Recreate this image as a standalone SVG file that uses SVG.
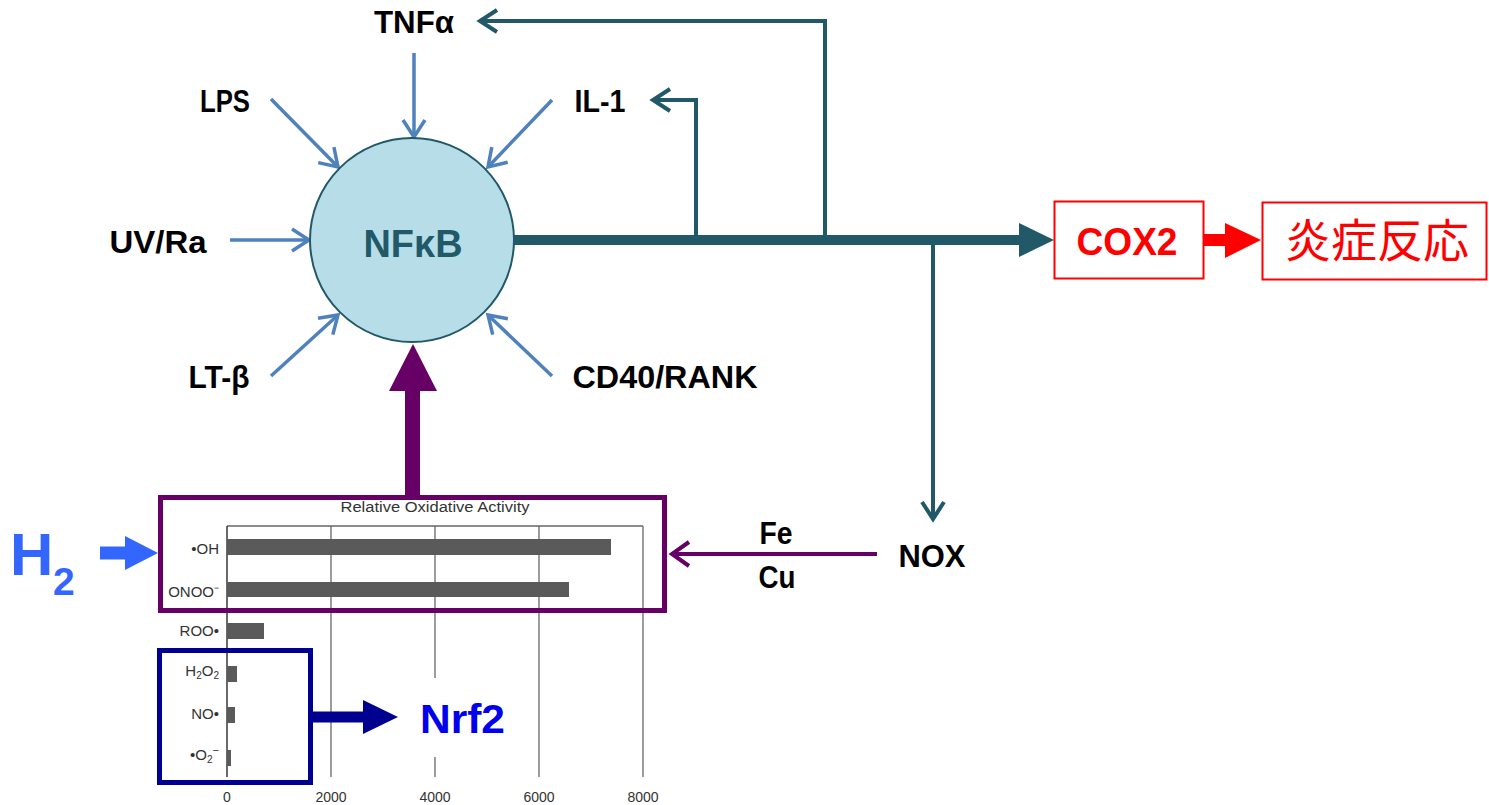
<svg xmlns="http://www.w3.org/2000/svg" width="1489" height="805" viewBox="0 0 1489 805">
<style>
.lbl{font-family:"Liberation Sans",Arial,sans-serif;font-weight:bold;font-size:31px;fill:#000;text-anchor:middle}
.blue{fill:none;stroke:#4F81BD;stroke-width:3.5}
.teal{fill:none;stroke:#215968;stroke-width:4}
.ch{font-family:"Liberation Sans",Arial,sans-serif;font-size:14px;fill:#333}
.yl{font-family:"Liberation Sans",Arial,sans-serif;font-size:15px;fill:#333;text-anchor:end}
.grid{stroke:#666;stroke-width:1.3}
.bar{fill:#5a5a5a}
</style>
<defs>
<marker id="mb" viewBox="-2 -14 24 28" refX="18" refY="0" markerWidth="24" markerHeight="28" markerUnits="userSpaceOnUse" orient="auto">
<path d="M1,-11 L18,0 L1,11" fill="none" stroke="#4F81BD" stroke-width="3.5"/>
</marker>
<marker id="mt" viewBox="-2 -14 24 28" refX="18" refY="0" markerWidth="24" markerHeight="28" markerUnits="userSpaceOnUse" orient="auto">
<path d="M1,-11 L18,0 L1,11" fill="none" stroke="#215968" stroke-width="4"/>
</marker>
<marker id="mp" viewBox="-2 -14 24 28" refX="18" refY="0" markerWidth="24" markerHeight="28" markerUnits="userSpaceOnUse" orient="auto">
<path d="M1,-12 L18,0 L1,12" fill="none" stroke="#660066" stroke-width="4"/>
</marker>
</defs>
<rect width="1489" height="805" fill="#fff"/>

<g id="chart">
<text class="ch" x="435" y="512" text-anchor="middle" font-size="17" textLength="189" lengthAdjust="spacingAndGlyphs">Relative Oxidative Activity</text>
<line class="grid" x1="227" y1="526" x2="643" y2="526"/>
<line class="grid" x1="331" y1="526" x2="331" y2="777"/>
<line class="grid" x1="435" y1="526" x2="435" y2="678"/>
<line class="grid" x1="435" y1="757" x2="435" y2="777"/>
<line class="grid" x1="539" y1="526" x2="539" y2="777"/>
<line class="grid" x1="643" y1="526" x2="643" y2="777"/>
<line x1="227" y1="526" x2="227" y2="777" stroke="#444" stroke-width="1.6"/>
<rect class="bar" x="227" y="539" width="384" height="16"/>
<rect class="bar" x="227" y="582" width="342" height="15"/>
<rect class="bar" x="227" y="623" width="37" height="16"/>
<rect class="bar" x="227" y="666" width="10" height="16"/>
<rect class="bar" x="227" y="707" width="8" height="16"/>
<rect class="bar" x="227" y="750" width="4" height="16"/>
<text class="yl" x="219" y="554">•OH</text>
<text class="yl" x="219" y="597">ONOO⁻</text>
<text class="yl" x="219" y="636">ROO•</text>
<text class="yl" x="219" y="676">H<tspan font-size="10" dy="3">2</tspan><tspan dy="-3">O</tspan><tspan font-size="10" dy="3">2</tspan></text>
<text class="yl" x="219" y="719">NO•</text>
<text class="yl" x="219" y="760">•O<tspan font-size="10" dy="3">2</tspan><tspan dy="-9" font-size="11">−</tspan></text>
<text class="ch" x="227" y="802" text-anchor="middle">0</text>
<text class="ch" x="331" y="802" text-anchor="middle">2000</text>
<text class="ch" x="435" y="802" text-anchor="middle">4000</text>
<text class="ch" x="539" y="802" text-anchor="middle">6000</text>
<text class="ch" x="643" y="802" text-anchor="middle">8000</text>
</g>

<g id="connectors">
<line class="blue" x1="414" y1="53" x2="414" y2="137" marker-end="url(#mb)"/>
<line class="blue" x1="271" y1="99" x2="338" y2="167" marker-end="url(#mb)"/>
<line class="blue" x1="552" y1="100" x2="488" y2="167" marker-end="url(#mb)"/>
<line class="blue" x1="230" y1="240" x2="309" y2="240" marker-end="url(#mb)"/>
<line class="blue" x1="271" y1="376" x2="338" y2="315" marker-end="url(#mb)"/>
<line class="blue" x1="552" y1="376" x2="488" y2="315" marker-end="url(#mb)"/>
<line x1="513" y1="240" x2="1022" y2="240" stroke="#215968" stroke-width="10"/>
<polygon points="1019,223 1054,240 1019,257" fill="#215968"/>
<polyline class="teal" points="696,240 696,100 653,100" marker-end="url(#mt)"/>
<polyline class="teal" points="825,240 825,21 480,21" marker-end="url(#mt)"/>
<polyline class="teal" points="933,240 933,519" marker-end="url(#mt)"/>
<line x1="1204" y1="240" x2="1228" y2="240" stroke="#FF0000" stroke-width="12"/>
<polygon points="1225,223 1261,240 1225,258" fill="#FF0000"/>
<rect x="405" y="388" width="15" height="108" fill="#660066"/>
<polygon points="389,391 437,391 413,344" fill="#660066"/>
<line x1="877" y1="554" x2="672" y2="554" stroke="#660066" stroke-width="4" marker-end="url(#mp)"/>
<line x1="100" y1="553" x2="128" y2="553" stroke="#3366FF" stroke-width="13"/>
<polygon points="125,536 158,553 125,570" fill="#3366FF"/>
<line x1="313" y1="717" x2="366" y2="717" stroke="#000090" stroke-width="11"/>
<polygon points="363,700 398,717 363,734" fill="#000090"/>
</g>

<g id="nfkb">
<circle cx="412" cy="240" r="102" fill="#B7DEE8" stroke="#215968" stroke-width="2"/>
<text x="413" y="257" font-family="Liberation Sans, Arial, sans-serif" font-weight="bold" font-size="39" fill="#215968" text-anchor="middle" textLength="99" lengthAdjust="spacingAndGlyphs">NFκB</text>
</g>
<g id="tnfa"><text class="lbl" x="414" y="33" textLength="80" lengthAdjust="spacingAndGlyphs">TNFα</text></g>
<g id="lps"><text class="lbl" x="225" y="112" textLength="50" lengthAdjust="spacingAndGlyphs">LPS</text></g>
<g id="il1"><text class="lbl" x="600" y="112" textLength="51" lengthAdjust="spacingAndGlyphs">IL-1</text></g>
<g id="uvra"><text class="lbl" x="158" y="253" textLength="97" lengthAdjust="spacingAndGlyphs">UV/Ra</text></g>
<g id="ltb"><text class="lbl" x="219" y="388" textLength="61" lengthAdjust="spacingAndGlyphs">LT-β</text></g>
<g id="cd40"><text class="lbl" x="665" y="388" textLength="185" lengthAdjust="spacingAndGlyphs">CD40/RANK</text></g>
<g id="fecu">
<text class="lbl" x="776" y="544" textLength="33" lengthAdjust="spacingAndGlyphs">Fe</text>
<text class="lbl" x="777" y="588" textLength="37" lengthAdjust="spacingAndGlyphs">Cu</text>
</g>
<g id="nox"><text class="lbl" x="932" y="567" textLength="67" lengthAdjust="spacingAndGlyphs">NOX</text></g>
<g id="cox2">
<rect x="1054.5" y="201.5" width="149" height="77" fill="#fff" stroke="#FF0000" stroke-width="2"/>
<text x="1127" y="255" font-family="Liberation Sans, Arial, sans-serif" font-weight="bold" font-size="39" fill="#FF0000" text-anchor="middle" textLength="101" lengthAdjust="spacingAndGlyphs">COX2</text>
</g>
<g id="inflammation">
<rect x="1262.5" y="202.5" width="224" height="77" fill="#fff" stroke="#FF0000" stroke-width="2"/>
<text x="1377" y="257" font-family="Noto Sans CJK JP, sans-serif" font-size="46" fill="#FF0000" text-anchor="middle">炎症反応</text>
</g>
<g id="h2">
<text x="10" y="575" font-family="Liberation Sans, Arial, sans-serif" font-weight="bold" font-size="60" fill="#3366FF">H</text>
<text x="53" y="595" font-family="Liberation Sans, Arial, sans-serif" font-weight="bold" font-size="39" fill="#3366FF">2</text>
</g>
<g id="oxbox"><rect x="160.5" y="497.5" width="504" height="113" fill="none" stroke="#660066" stroke-width="5"/></g>
<g id="nrfbox"><rect x="159.5" y="650.5" width="151" height="132" fill="none" stroke="#000090" stroke-width="5"/></g>
<g id="nrf2"><text x="420" y="733" font-family="Liberation Sans, Arial, sans-serif" font-weight="bold" font-size="40" fill="#0000EE" textLength="85" lengthAdjust="spacingAndGlyphs">Nrf2</text></g>
</svg>
